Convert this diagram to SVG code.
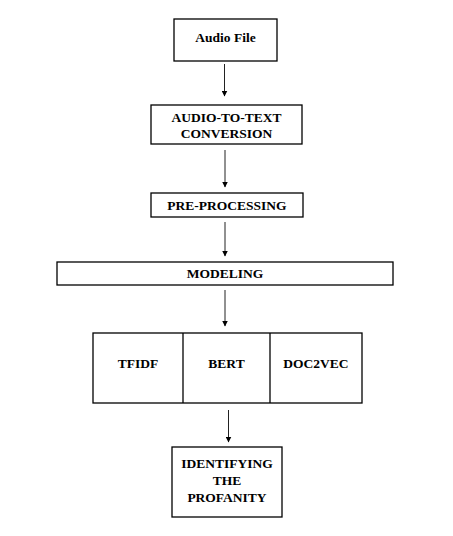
<svg xmlns="http://www.w3.org/2000/svg" width="453" height="536" viewBox="0 0 453 536">
<defs>
<marker id="ah" viewBox="0 0 6 6" refX="5.5" refY="3" markerWidth="6" markerHeight="6" markerUnits="userSpaceOnUse" orient="auto">
<path d="M0,0 L6,3 L0,6 z" fill="#000"/>
</marker>
<style>
.box{fill:#fff;stroke:#000;stroke-width:1.3}
.lbl{font-weight:bold;font-size:13.5px;fill:#000;text-anchor:middle}
.conn{stroke:#222;stroke-width:1;fill:none;marker-end:url(#ah)}
</style>
</defs>
<rect width="453" height="536" fill="#fff"/>
<g id="connectors">
<line class="conn" x1="224.5" y1="64" x2="224.5" y2="96"/>
<line class="conn" x1="225" y1="150" x2="225" y2="187"/>
<line class="conn" x1="225" y1="222" x2="225" y2="256"/>
<line class="conn" x1="225" y1="290" x2="225" y2="326"/>
<line class="conn" x1="228.5" y1="410" x2="228.5" y2="442"/>
</g>
<g font-family="Liberation Serif, DejaVu Serif, serif">
<g id="audio-file">
<rect class="box" x="174" y="19" width="103" height="42"/>
<text class="lbl" x="225.5" y="42">Audio File</text>
</g>
<g id="audio-to-text">
<rect class="box" x="151" y="105" width="151" height="39"/>
<text class="lbl" x="226.5" y="122">AUDIO-TO-TEXT</text>
<text class="lbl" x="226.5" y="138">CONVERSION</text>
</g>
<g id="pre-processing">
<rect class="box" x="151" y="193" width="152" height="24"/>
<text class="lbl" x="227" y="210">PRE-PROCESSING</text>
</g>
<g id="modeling">
<rect class="box" x="57" y="262" width="336" height="23"/>
<text class="lbl" x="225" y="278">MODELING</text>
</g>
<g id="models">
<rect class="box" x="93" y="333" width="269" height="70"/>
<line x1="183" y1="333" x2="183" y2="403" stroke="#000" stroke-width="1.3"/>
<line x1="270" y1="333" x2="270" y2="403" stroke="#000" stroke-width="1.3"/>
<g id="tfidf"><text class="lbl" x="138" y="368">TFIDF</text></g>
<g id="bert"><text class="lbl" x="226.5" y="368">BERT</text></g>
<g id="doc2vec"><text class="lbl" x="316" y="368">DOC2VEC</text></g>
</g>
<g id="identifying">
<rect class="box" x="172" y="447" width="110" height="70"/>
<text class="lbl" x="227" y="468">IDENTIFYING</text>
<text class="lbl" x="227" y="485">THE</text>
<text class="lbl" x="227" y="502">PROFANITY</text>
</g>
</g>
</svg>
